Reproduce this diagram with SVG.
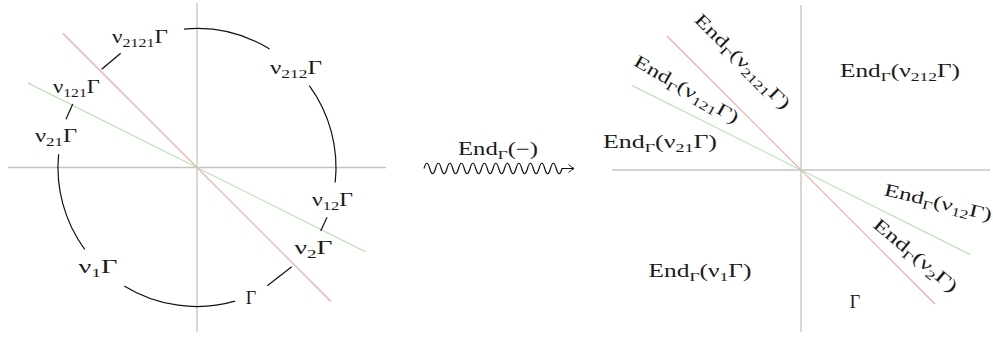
<svg xmlns="http://www.w3.org/2000/svg" width="993" height="337" viewBox="0 0 993 337">
<defs>
<style>
.ax{stroke:#c4c4c4;stroke-width:1.3;fill:none}
.rd{stroke:#f4a4a4;stroke-width:1.1;fill:none}
.gr{stroke:#aee2a6;stroke-width:1.1;fill:none}
.cn{stroke:#111;stroke-width:1.2;fill:none}
.t{font-family:"Liberation Serif","Times New Roman",serif;font-size:18px;fill:#1a1a1a;text-anchor:middle}
.s{font-size:12.5px}
</style>
<marker id="ah" markerWidth="12" markerHeight="12" refX="8" refY="6" orient="auto" markerUnits="userSpaceOnUse">
<path d="M2.5,2 Q6,5 8,6 Q6,7 2.5,10" fill="none" stroke="#111" stroke-width="1"/>
</marker>
</defs>
<rect width="993" height="337" fill="#fff"/>
<g id="axes-left">
<line class="ax" x1="8" y1="167.5" x2="386" y2="167.5"/>
<line class="ax" x1="197" y1="3" x2="197" y2="332"/>
<line class="rd" x1="63" y1="33.5" x2="331" y2="301.5"/>
<line class="gr" x1="28" y1="83" x2="366" y2="252"/>
</g>
<g id="axes-right">
<line class="ax" x1="612" y1="170" x2="990" y2="170"/>
<line class="ax" x1="801" y1="5" x2="801" y2="332"/>
<line class="rd" x1="667" y1="36" x2="935" y2="304"/>
<line class="gr" x1="632" y1="85.5" x2="970" y2="254.5"/>
</g>
<g id="connectors">
<path class="cn" d="M183.9,29.1 A139,139 0 0 1 269.6,49"/>
<path class="cn" d="M309.3,85.6 A139,139 0 0 1 335.2,182.5"/>
<path class="cn" d="M84.7,249.4 A139,139 0 0 1 58.6,154.2"/>
<path class="cn" d="M235.1,301.2 A139,139 0 0 1 124.2,285.9"/>
<line class="cn" x1="120.7" y1="53.3" x2="101.7" y2="69.3"/>
<line class="cn" x1="72.7" y1="104" x2="66" y2="119.3"/>
<line class="cn" x1="267.3" y1="285.7" x2="291.7" y2="266.7"/>
<line class="cn" x1="327" y1="217.3" x2="320.7" y2="231"/>
<path class="cn" marker-end="url(#ah)" d="M424,168.5 q2.875,-10.5 5.75,0 t5.75,0 t5.75,0 t5.75,0 t5.75,0 t5.75,0 t5.75,0 t5.75,0 t5.75,0 t5.75,0 t5.75,0 t5.75,0 t5.75,0 t5.75,0 t5.75,0 t5.75,0 t5.75,0 t5.75,0 t5.75,0 t5.75,0 t5.75,0 t5.75,0 t5.75,0 t5.75,0 L574,168.5"/>
</g>
<g id="n-v2121">
<text class="t" x="140" y="43" textLength="56" lengthAdjust="spacingAndGlyphs">ν<tspan class="s" dy="4">2121</tspan><tspan dy="-4">Γ</tspan></text>
</g>
<g id="n-v212">
<text class="t" x="296" y="74" textLength="52" lengthAdjust="spacingAndGlyphs">ν<tspan class="s" dy="4">212</tspan><tspan dy="-4">Γ</tspan></text>
</g>
<g id="n-v121">
<text class="t" x="76.5" y="93" textLength="47" lengthAdjust="spacingAndGlyphs">ν<tspan class="s" dy="4">121</tspan><tspan dy="-4">Γ</tspan></text>
</g>
<g id="n-v21">
<text class="t" x="56" y="142" textLength="42" lengthAdjust="spacingAndGlyphs">ν<tspan class="s" dy="4">21</tspan><tspan dy="-4">Γ</tspan></text>
</g>
<g id="n-v1">
<text class="t" x="98" y="273" textLength="39" lengthAdjust="spacingAndGlyphs">ν<tspan class="s" dy="4">1</tspan><tspan dy="-4">Γ</tspan></text>
</g>
<g id="n-gamma">
<text class="t" x="251" y="304">Γ</text>
</g>
<g id="n-v2">
<text class="t" x="313.5" y="254" textLength="38" lengthAdjust="spacingAndGlyphs">ν<tspan class="s" dy="4">2</tspan><tspan dy="-4">Γ</tspan></text>
</g>
<g id="n-v12">
<text class="t" x="332.5" y="206" textLength="41" lengthAdjust="spacingAndGlyphs">ν<tspan class="s" dy="4">12</tspan><tspan dy="-4">Γ</tspan></text>
</g>
<g id="arrow-label">
<text class="t" x="498" y="155" textLength="80" lengthAdjust="spacingAndGlyphs">End<tspan class="s" dy="4">Γ</tspan><tspan dy="-4">(−)</tspan></text>
</g>
<g id="r-v2121">
<text class="t" transform="translate(742,62) rotate(45)" x="0" y="5" textLength="127" lengthAdjust="spacingAndGlyphs">End<tspan class="s" dy="4">Γ</tspan><tspan dy="-4">(ν</tspan><tspan class="s" dy="4">2121</tspan><tspan dy="-4">Γ)</tspan></text>
</g>
<g id="r-v121">
<text class="t" transform="translate(686,90) rotate(30)" x="0" y="5" textLength="118" lengthAdjust="spacingAndGlyphs">End<tspan class="s" dy="4">Γ</tspan><tspan dy="-4">(ν</tspan><tspan class="s" dy="4">121</tspan><tspan dy="-4">Γ)</tspan></text>
</g>
<g id="r-v21">
<text class="t" x="660" y="148" textLength="114" lengthAdjust="spacingAndGlyphs">End<tspan class="s" dy="4">Γ</tspan><tspan dy="-4">(ν</tspan><tspan class="s" dy="4">21</tspan><tspan dy="-4">Γ)</tspan></text>
</g>
<g id="r-v212">
<text class="t" x="900" y="77" textLength="120" lengthAdjust="spacingAndGlyphs">End<tspan class="s" dy="4">Γ</tspan><tspan dy="-4">(ν</tspan><tspan class="s" dy="4">212</tspan><tspan dy="-4">Γ)</tspan></text>
</g>
<g id="r-v1">
<text class="t" x="700" y="277" textLength="103" lengthAdjust="spacingAndGlyphs">End<tspan class="s" dy="4">Γ</tspan><tspan dy="-4">(ν</tspan><tspan class="s" dy="4">1</tspan><tspan dy="-4">Γ)</tspan></text>
</g>
<g id="r-v12">
<text class="t" transform="translate(938,203) rotate(13.5)" x="0" y="5" textLength="110" lengthAdjust="spacingAndGlyphs">End<tspan class="s" dy="4">Γ</tspan><tspan dy="-4">(ν</tspan><tspan class="s" dy="4">12</tspan><tspan dy="-4">Γ)</tspan></text>
</g>
<g id="r-v2">
<text class="t" transform="translate(915,256) rotate(40)" x="0" y="5" textLength="104" lengthAdjust="spacingAndGlyphs">End<tspan class="s" dy="4">Γ</tspan><tspan dy="-4">(ν</tspan><tspan class="s" dy="4">2</tspan><tspan dy="-4">Γ)</tspan></text>
</g>
<g id="r-gamma">
<text class="t" x="855" y="308">Γ</text>
</g>
</svg>
